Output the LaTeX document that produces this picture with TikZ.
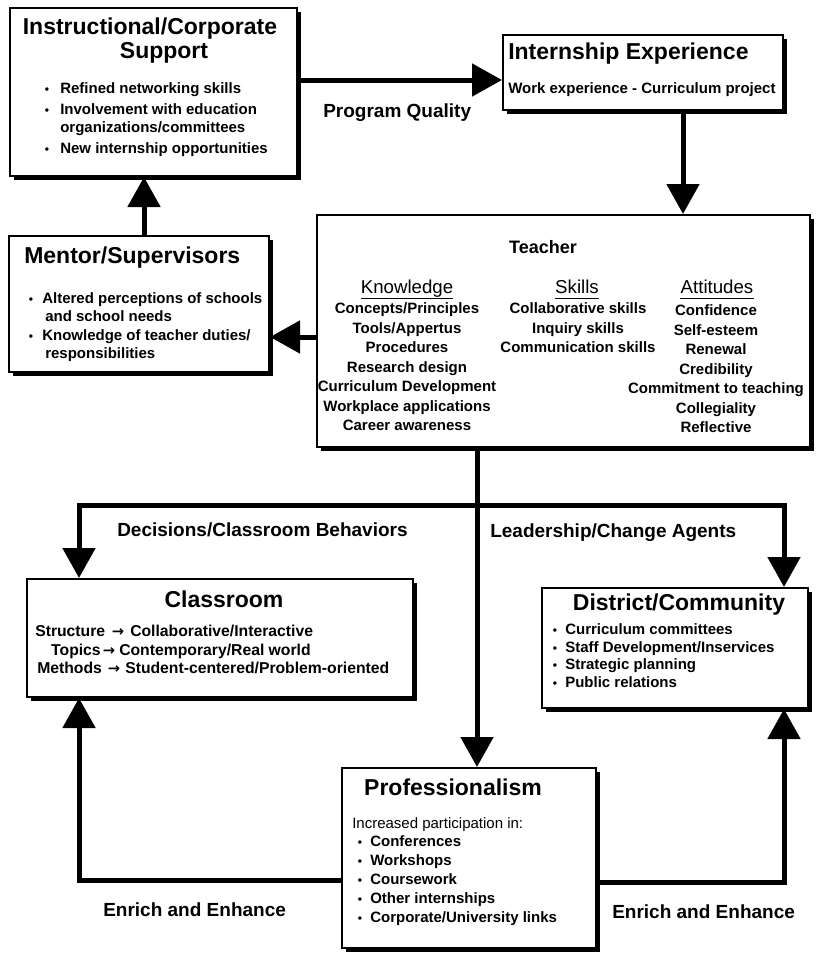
\documentclass[tikz,border=0pt]{standalone}
\usepackage{fontspec}
\setmainfont{Liberation Sans}
\newfontfamily\arrowfont{DejaVu Sans}
\usetikzlibrary{arrows.meta,shadows}

% font sizes (picture units are pixels of 0.75pt)
\newcommand\ttlfont{\fontsize{17.25}{20}\selectfont\bfseries}
\newcommand\bdyfont{\fontsize{11.25}{13.5}\selectfont\bfseries}
\newcommand\clsfont{\fontsize{11.8}{14}\selectfont\bfseries}
\newcommand\regfont{\fontsize{11.25}{13.5}\selectfont}
\newcommand\lblfont{\fontsize{14.25}{17}\selectfont\bfseries}
\newcommand\hdrfont{\fontsize{14}{16}\selectfont}
\newcommand\tchfont{\fontsize{13.5}{16}\selectfont\bfseries}
\newcommand\dotfont{\fontsize{9}{9}\selectfont\bfseries}
\newcommand\rarr{{\arrowfont\bfseries\fontsize{11}{11}\selectfont →}}

\begin{document}
\begin{tikzpicture}[x=0.75pt,y=-0.75pt,
  box/.style={draw=black,line width=1.5pt,fill=white,rectangle,inner sep=0pt,
    drop shadow={shadow xshift=3pt,shadow yshift=-3pt,fill=black,opacity=1}},
  flow/.style={line width=3.75pt,-{Triangle[length=22.5pt,width=24pt]}},
  ctr/.style={inner sep=0pt},
  lft/.style={inner sep=0pt,anchor=west},
  bodyline/.style={text height=8.1pt,text depth=2.4pt},
  ttl/.style={ctr,font=\ttlfont,text height=12.4pt,text depth=3.6pt},
  lttl/.style={lft,font=\ttlfont,text height=12.4pt,text depth=3.6pt},
  item/.style={lft,font=\bdyfont,bodyline},
  citem/.style={ctr,font=\bdyfont,bodyline},
  cls/.style={lft,font=\clsfont,bodyline},
  clsarr/.style={ctr,anchor=center,bodyline},
  blt/.style={ctr,font=\dotfont,bodyline},
  lbl/.style={lft,font=\lblfont,text height=10.2pt,text depth=3pt},
  hdr/.style={ctr,font=\hdrfont,text height=10pt,text depth=3.5pt},
  uline/.style={line width=0.9pt}
]
\useasboundingbox[fill=white] (0,0) rectangle (816,958);

% ---------- boxes ----------
\node[box,minimum width=215.25pt,minimum height=126pt] (ics) at (153.5,92) {};
\node[box,minimum width=210pt,minimum height=56.25pt] (intern) at (643,72.5) {};
\node[box,minimum width=369.75pt,minimum height=174pt] (teacher) at (563.5,331) {};
\node[box,minimum width=195pt,minimum height=102pt] (mentor) at (139,304) {};
\node[box,minimum width=289.5pt,minimum height=88.5pt] (class) at (220,638) {};
\node[box,minimum width=199.5pt,minimum height=90pt] (dist) at (675,648) {};
\node[box,minimum width=190.5pt,minimum height=135pt] (prof) at (469,858) {};

% ---------- Instructional/Corporate Support ----------
\node[ttl] (icsT1) at (150,29) {Instructional/Corporate};
\node[ttl] (icsT2) at (164,53) {Support};
\node[blt] (icsB1) at (47,90) {•};
\node[item] (icsI1) at (60,90) {Refined networking skills};
\node[blt] (icsB2) at (47,111) {•};
\node[item] (icsI2) at (60,111) {Involvement with education};
\node[item] (icsI3) at (60,129) {organizations/committees};
\node[blt] (icsB3) at (47,150) {•};
\node[item] (icsI4) at (60,150) {New internship opportunities};

% ---------- Internship Experience ----------
\node[lttl] (intT) at (508,54) {Internship Experience};
\node[item] (intI) at (508,90) {Work experience - Curriculum project};

% ---------- Mentor/Supervisors ----------
\node[lttl] (menT) at (24,258) {Mentor/Supervisors};
\node[blt] (menB1) at (31,300) {•};
\node[item] (menI1) at (42,300) {Altered perceptions of schools};
\node[item] (menI2) at (45,318) {and school needs};
\node[blt] (menB2) at (31,337) {•};
\node[item] (menI3) at (42,337) {Knowledge of teacher duties/};
\node[item] (menI4) at (45,355) {responsibilities};

% ---------- Teacher ----------
\node[ctr,font=\tchfont,text height=9.7pt,text depth=2.8pt] (tchT) at (543,249) {Teacher};
\node[hdr] (hK) at (407,289) {Knowledge};
\node[hdr] (hS) at (577,289) {Skills};
\node[hdr] (hA) at (717,289) {Attitudes};
\draw[uline] (hK.south west) -- (hK.south east);
\draw[uline] (hS.south west) -- (hS.south east);
\draw[uline] (hA.south west) -- (hA.south east);

\node[citem] (k1) at (407,310) {Concepts/Principles};
\node[citem] (k2) at (407,329.5) {Tools/Appertus};
\node[citem] (k3) at (407,349) {Procedures};
\node[citem] (k4) at (407,368.5) {Research design};
\node[citem] (k5) at (407,388) {Curriculum Development};
\node[citem] (k6) at (407,407.5) {Workplace applications};
\node[citem] (k7) at (407,427) {Career awareness};

\node[citem] (s1) at (578,310) {Collaborative skills};
\node[citem] (s2) at (578,329.5) {Inquiry skills};
\node[citem] (s3) at (578,349) {Communication skills};

\node[citem] (a1) at (716,312) {Confidence};
\node[citem] (a2) at (716,331.5) {Self-esteem};
\node[citem] (a3) at (716,351) {Renewal};
\node[citem] (a4) at (716,370.5) {Credibility};
\node[citem] (a5) at (716,390) {Commitment to teaching};
\node[citem] (a6) at (716,409.5) {Collegiality};
\node[citem] (a7) at (716,429) {Reflective};

% ---------- Classroom ----------
\node[ttl] (clsT) at (224,602) {Classroom};
\node[cls] (c1a) at (35,633) {Structure};
\node[clsarr] (c1b) at (118,633) {\rarr};
\node[cls] (c1c) at (130,633) {Collaborative/Interactive};
\node[cls,anchor=east] (c2a) at (101,652) {Topics};
\node[clsarr] (c2b) at (109,652) {\rarr};
\node[cls] (c2c) at (119,652) {Contemporary/Real world};
\node[cls] (c3a) at (37,670) {Methods};
\node[clsarr] (c3b) at (114,670) {\rarr};
\node[cls] (c3c) at (125,670) {Student-centered/Problem-oriented};

% ---------- District/Community ----------
\node[ttl] (disT) at (679,605) {District/Community};
\node[blt] (disB1) at (555,631) {•};
\node[item] (disI1) at (565,631) {Curriculum committees};
\node[blt] (disB2) at (555,648.5) {•};
\node[item] (disI2) at (565,648.5) {Staff Development/Inservices};
\node[blt] (disB3) at (555,666) {•};
\node[item] (disI3) at (565,666) {Strategic planning};
\node[blt] (disB4) at (555,683.5) {•};
\node[item] (disI4) at (565,683.5) {Public relations};

% ---------- Professionalism ----------
\node[ttl] (proT) at (453,790) {Professionalism};
\node[lft,font=\regfont,bodyline] (proI0) at (352,825) {Increased participation in:};
\node[blt] (proB1) at (360,843) {•};
\node[item] (proI1) at (370,843) {Conferences};
\node[blt] (proB2) at (360,862) {•};
\node[item] (proI2) at (370,862) {Workshops};
\node[blt] (proB3) at (360,881) {•};
\node[item] (proI3) at (370,881) {Coursework};
\node[blt] (proB4) at (360,900) {•};
\node[item] (proI4) at (370,900) {Other internships};
\node[blt] (proB5) at (360,919) {•};
\node[item] (proI5) at (370,919) {Corporate/University links};

% ---------- connector labels ----------
\node[lbl] (lPQ) at (323,113) {Program Quality};
\node[lbl] (lDC) at (117,532) {Decisions/Classroom Behaviors};
\node[lbl] (lLC) at (490,533) {Leadership/Change Agents};
\node[lbl] (lE1) at (103,912) {Enrich and Enhance};
\node[lbl] (lE2) at (612,914) {Enrich and Enhance};

% ---------- connector rails ----------
\coordinate (rowPQ) at (0,80);
\coordinate (colIT) at (683,0);
\coordinate (rowTM) at (0,337);
\coordinate (colMI) at (144,0);
\coordinate (colTP) at (477,0);
\coordinate (rowSplit) at (0,505);
\coordinate (colL) at (79,0);
\coordinate (colR) at (784,0);
\coordinate (rowEL) at (0,880);
\coordinate (rowER) at (0,882);
\coordinate (split) at (colTP |- rowSplit);

% ---------- connectors ----------
\draw[flow] (ics.east |- rowPQ) -- (intern.west |- rowPQ);
\draw[flow] (intern.south -| colIT) -- (teacher.north -| colIT);
\draw[flow] (teacher.west |- rowTM) -- (mentor.east |- rowTM);
\draw[flow] (mentor.north -| colMI) -- (ics.south -| colMI);
\draw[flow] (teacher.south -| colTP) -- (prof.north -| colTP);
\draw[flow] (split) -| (class.north -| colL);
\draw[flow] (split) -| (dist.north -| colR);
\draw[flow] (prof.west |- rowEL) -| (class.south -| colL);
\draw[flow] (prof.east |- rowER) -| (dist.south -| colR);
\end{tikzpicture}
\end{document}
